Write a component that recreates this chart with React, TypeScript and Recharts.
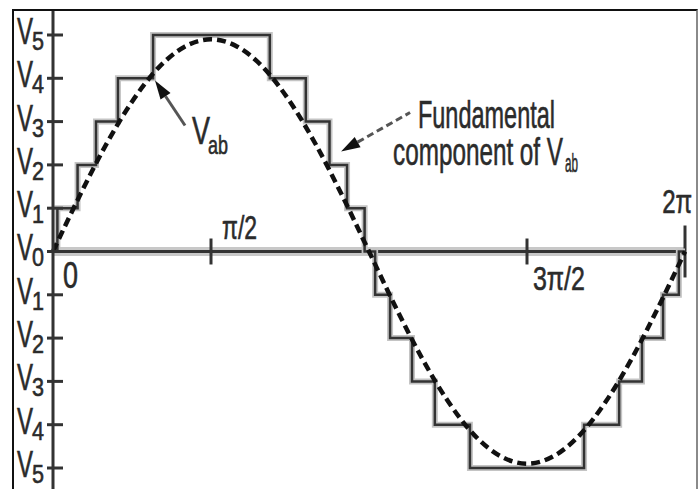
import React from 'react';
import { ComposedChart, Line, XAxis, YAxis, ReferenceLine, ReferenceDot } from 'recharts';

// staircase V_ab: switching angle (deg) and the level held from there on
const stepAngles = [0, 2.5, 14, 24.5, 37, 57, 123.5, 144, 157.5, 167.5, 177.5, 183.5, 192, 204.5, 217.5, 237.5, 302.5, 322.5, 335.5, 347.5, 356.5, 360];
const stepLevels = [0, 1, 2, 3, 4, 5, 4, 3, 2, 1, 0, -1, -2, -3, -4, -5, -4, -3, -2, -1, 0, 0];

// fundamental component, read every 15 deg
const fundAngles = [0, 15, 30, 45, 60, 75, 90, 105, 120, 135, 150, 165, 180, 195, 210, 225, 240, 255, 270, 285, 300, 315, 330, 345, 360];
const fundValues = [0, 1.27, 2.45, 3.46, 4.24, 4.73, 4.9, 4.73, 4.24, 3.46, 2.45, 1.27, 0, -1.27, -2.45, -3.46, -4.24, -4.73, -4.9, -4.73, -4.24, -3.46, -2.45, -1.27, 0];

const levelTicks = [-5, -4, -3, -2, -1, 0, 1, 2, 3, 4, 5];
const phaseTicks = [90, 270, 360];
const phaseLabels = ['0', 'π/2', '3π/2', '2π'];

const stairData = stepAngles.map((a, i) => ({ a, v: stepLevels[i] }));
const fundData = fundAngles.map((a, i) => ({ a, v: fundValues[i] }));

const FONT = "'Liberation Sans Narrow', 'Liberation Sans', Arial, sans-serif";
const INK = '#2b2b2b';
const txt = { fontFamily: FONT, fill: INK, stroke: INK, strokeWidth: 0.6, lengthAdjust: 'spacingAndGlyphs' } as const;

type Sub = { text: string; dx: number; dy: number; size: number; len: number };

// main text plus an optional subscript, kept in one <text>
const Label = ({ x, y, label, size, len, sub }: { x: number; y: number; label: string; size: number; len: number; sub?: Sub }) => (
  <text x={x} y={y} fontSize={size} {...txt}>
    <tspan textLength={len} lengthAdjust="spacingAndGlyphs">{label}</tspan>
    {sub && (
      <tspan x={x + sub.dx} y={y + sub.dy} fontSize={sub.size} textLength={sub.len} lengthAdjust="spacingAndGlyphs">{sub.text}</tspan>
    )}
  </text>
);

const LevelTick = (props: any) => {
  const { x, y, payload } = props;
  return (
    <g>
      <line x1={x - 6} x2={x + 10} y1={y} y2={y} stroke="#333" strokeWidth={3} />
      <Label x={x - 36} y={y + 9} label="V" size={37} len={16} sub={{ text: String(Math.abs(payload.value)), dx: 15, dy: 6, size: 26, len: 12 }} />
    </g>
  );
};

const textShape = (label: string, size: number, len: number, sub?: Sub) => (p: any) => (
  <Label x={p.cx} y={p.cy} label={label} size={size} len={len} sub={sub} />
);

const arrowShape = (dashed: boolean) => (p: any) => {
  const { x1, y1, x2, y2 } = p;
  if (x1 == null) return <g />;
  const ang = Math.atan2(y2 - y1, x2 - x1);
  const L = 19, W = 6;
  const bx = x1 + L * Math.cos(ang), by = y1 + L * Math.sin(ang);
  const nx = -Math.sin(ang) * W, ny = Math.cos(ang) * W;
  return (
    <g>
      <line x1={bx} y1={by} x2={x2} y2={y2} stroke="#555" strokeWidth={3} strokeDasharray={dashed ? '7 4' : undefined} />
      <polygon points={`${x1},${y1} ${bx + nx},${by + ny} ${bx - nx},${by - ny}`} fill="#111" />
    </g>
  );
};

export default function App() {
  return (
    <div style={{ position: 'fixed', left: 0, top: 0, width: 698, height: 489, background: '#fff', overflow: 'hidden' }}>
      <div style={{ position: 'absolute', left: 12, top: 9, width: 682, height: 490, borderTop: '2px solid #111', borderLeft: '2px solid #111', borderRight: '2px solid #8a8a8a' }} />
      <div style={{ position: 'absolute', left: 0, top: 0 }}>
        <ComposedChart width={698} height={489} margin={{ top: 11, right: 13, bottom: 0, left: 0 }}>
          <XAxis dataKey="a" type="number" domain={[0, 360]} hide />
          <YAxis
            type="number"
            domain={[-5.485, 5.554]}
            ticks={levelTicks}
            width={53}
            tickSize={0}
            tickMargin={0}
            tickLine={false}
            axisLine={{ stroke: '#333', strokeWidth: 3 }}
            tick={<LevelTick />}
            interval={0}
          />
          <ReferenceLine y={0} stroke="#c8c8c8" strokeWidth={9} />
          <ReferenceLine y={0} stroke="#333" strokeWidth={3} />
          {phaseTicks.map((t, i) => (
            <ReferenceLine
              key={t}
              segment={[{ x: t, y: i === 2 ? -0.6 : -0.3 }, { x: t, y: i === 2 ? 0.6 : 0.3 }]}
              stroke="#333"
              strokeWidth={3}
              ifOverflow="visible"
            />
          ))}
          <Line data={stairData} dataKey="v" type="stepAfter" stroke="#c4c4c4" strokeWidth={6} dot={false} isAnimationActive={false} />
          <Line data={stairData} dataKey="v" type="stepAfter" stroke="#333" strokeWidth={2.5} dot={false} isAnimationActive={false} />
          <Line data={fundData} dataKey="v" type="monotone" stroke="#111" strokeWidth={4.5} strokeDasharray="9 5" dot={false} isAnimationActive={false} />

          <ReferenceLine segment={[{ x: 58.1, y: 3.95 }, { x: 75.2, y: 2.91 }]} shape={arrowShape(false)} ifOverflow="visible" />
          <ReferenceLine segment={[{ x: 164.1, y: 2.31 }, { x: 203.4, y: 3.21 }]} shape={arrowShape(true)} ifOverflow="visible" />

          <ReferenceDot x={5.7} y={-0.85} ifOverflow="visible" shape={textShape(phaseLabels[0], 36, 15)} />
          <ReferenceDot x={96.3} y={0.3} ifOverflow="visible" shape={textShape(phaseLabels[1], 34, 35)} />
          <ReferenceDot x={273.4} y={-0.9} ifOverflow="visible" shape={textShape(phaseLabels[2], 34, 52)} />
          <ReferenceDot x={347} y={0.88} ifOverflow="visible" shape={textShape(phaseLabels[3], 34, 30)} />
          <ReferenceDot x={79.2} y={2.49} ifOverflow="visible" shape={textShape('V', 38, 18, { text: 'ab', dx: 16, dy: 10, size: 26, len: 20 })} />
          <ReferenceDot x={207.9} y={2.86} ifOverflow="visible" shape={textShape('Fundamental', 38, 137)} />
          <ReferenceDot x={193.7} y={1.99} ifOverflow="visible" shape={textShape('component of V', 38, 170, { text: 'ab', dx: 172, dy: 7, size: 26, len: 13 })} />
        </ComposedChart>
      </div>
    </div>
  );
}
